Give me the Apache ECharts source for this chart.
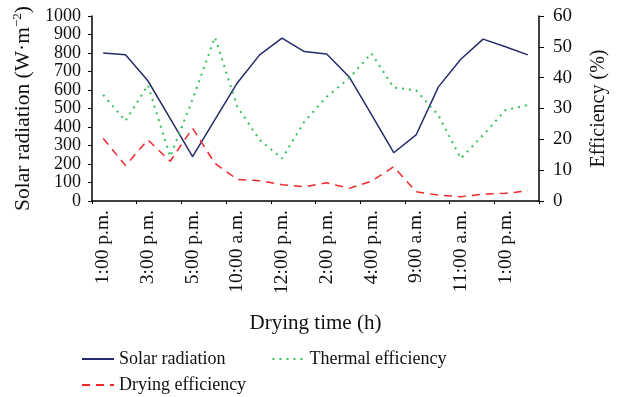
<!DOCTYPE html>
<html lang="en">
<head>
    <meta charset="UTF-8">
    <title>Solar radiation and efficiency</title>
    <script src="https://cdn.jsdelivr.net/npm/echarts@6.0.0/dist/echarts.min.js"></script>
    <style>
        html, body { margin: 0; padding: 0; background: #fff; }
        #chart-container { width: 619px; height: 397px; }
    </style>
</head>
<body>
<div id="chart-container"></div>
<script>
    // drying time categories (only every other one is labelled)
    var times = [
        "1:00 p.m.", "2:00 p.m.", "3:00 p.m.", "4:00 p.m.", "5:00 p.m.",
        "9:00 a.m.", "10:00 a.m.", "11:00 a.m.", "12:00 p.m.", "1:00 p.m.",
        "2:00 p.m.", "3:00 p.m.", "4:00 p.m.", "5:00 p.m.", "9:00 a.m.",
        "10:00 a.m.", "11:00 a.m.", "12:00 p.m.", "1:00 p.m.", "2:00 p.m."
    ];
    var solarRadiation = [800, 790, 650, 445, 240, 440, 638, 790, 880, 808,
                          795, 672, 468, 261, 357, 617, 766, 875, 834, 790];
    var thermalEff = [34.4, 26.0, 37.6, 14.4, 33, 53.1, 30.6, 19.8, 13.8, 25.7,
                      33.8, 39.8, 47.9, 36.8, 35.9, 27.8, 13.8, 21.4, 29.5, 31.1];
    var dryingEff = [20.3, 11.5, 19.8, 12.9, 23.6, 12.2, 7.0, 6.6, 5.3, 4.6,
                     5.9, 4.1, 6.4, 11.1, 3.0, 1.9, 1.4, 2.2, 2.5, 3.3];

    var font = "'Liberation Serif', 'DejaVu Serif', serif";
    var ink = "#111";

    var legendText = { fontFamily: font, fontSize: 18, color: ink };

    var option = {
        animation: false,
        textStyle: { fontFamily: font, color: ink },
        grid: { left: 92, right: 80, top: 16, bottom: 196 },
        legend: [
            {
                left: 76, top: 345, itemWidth: 32, itemHeight: 14, itemGap: 46,
                itemStyle: { opacity: 0 },
                textStyle: legendText,
                data: ["Solar radiation", "Thermal efficiency"]
            },
            {
                left: 76, top: 371, itemWidth: 32, itemHeight: 14,
                itemStyle: { opacity: 0 },
                textStyle: legendText,
                data: ["Drying efficiency"]
            }
        ],
        xAxis: {
            type: "category",
            data: times,
            name: "Drying time (h)",
            nameLocation: "middle",
            nameGap: 112,
            nameTextStyle: { fontFamily: font, fontSize: 21, color: ink },
            axisLine: { lineStyle: { color: "#000", width: 1.5 } },
            axisTick: { show: true, interval: 1, length: 3, lineStyle: { color: "#000" } },
            axisLabel: {
                interval: 1, rotate: 90, margin: 9,
                fontFamily: font, fontSize: 19.5, color: ink
            }
        },
        yAxis: [
            {
                type: "value",
                min: 0, max: 1000, interval: 100,
                name: "{a|Solar radiation (W·m}{b|−2}{a|)}",
                nameLocation: "middle",
                nameGap: 51,
                nameTextStyle: {
                    rich: {
                        a: { fontFamily: font, fontSize: 21.5, color: ink },
                        b: { fontFamily: font, fontSize: 13, color: ink, padding: [0, 0, 11, 0] }
                    }
                },
                axisLine: { show: true, lineStyle: { color: "#000", width: 1.5 } },
                axisTick: { show: true, length: 4, lineStyle: { color: "#000" } },
                axisLabel: {
                    margin: 11, fontFamily: font, fontSize: 18, color: ink,
                    formatter: function (v) { return String(v); }
                },
                splitLine: { show: false }
            },
            {
                type: "value",
                min: 0, max: 60, interval: 10,
                name: "Efficiency (%)",
                nameLocation: "middle",
                nameGap: 50,
                nameRotate: 90,
                nameTextStyle: { fontFamily: font, fontSize: 20, color: ink },
                axisLine: { show: true, lineStyle: { color: "#000", width: 1.5 } },
                axisTick: { show: true, length: 5, lineStyle: { color: "#000" } },
                axisLabel: { margin: 14, fontFamily: font, fontSize: 19, color: ink },
                splitLine: { show: false }
            }
        ],
        series: [
            {
                name: "Solar radiation",
                type: "line",
                yAxisIndex: 0,
                symbol: "none",
                data: solarRadiation,
                itemStyle: { color: "#252b6a" },
                lineStyle: { color: "#252b6a", width: 1.5 }
            },
            {
                name: "Thermal efficiency",
                type: "line",
                yAxisIndex: 1,
                symbol: "none",
                data: thermalEff,
                itemStyle: { color: "#35c057" },
                lineStyle: { color: "#35c057", width: 2, type: [2, 5] }
            },
            {
                name: "Drying efficiency",
                type: "line",
                yAxisIndex: 1,
                symbol: "none",
                data: dryingEff,
                itemStyle: { color: "#f0282c" },
                lineStyle: { color: "#f0282c", width: 1.5, type: [8, 6] }
            }
        ]
    };

    var chart = echarts.init(document.getElementById('chart-container'));
    chart.setOption(option);
</script>
</body>
</html>
